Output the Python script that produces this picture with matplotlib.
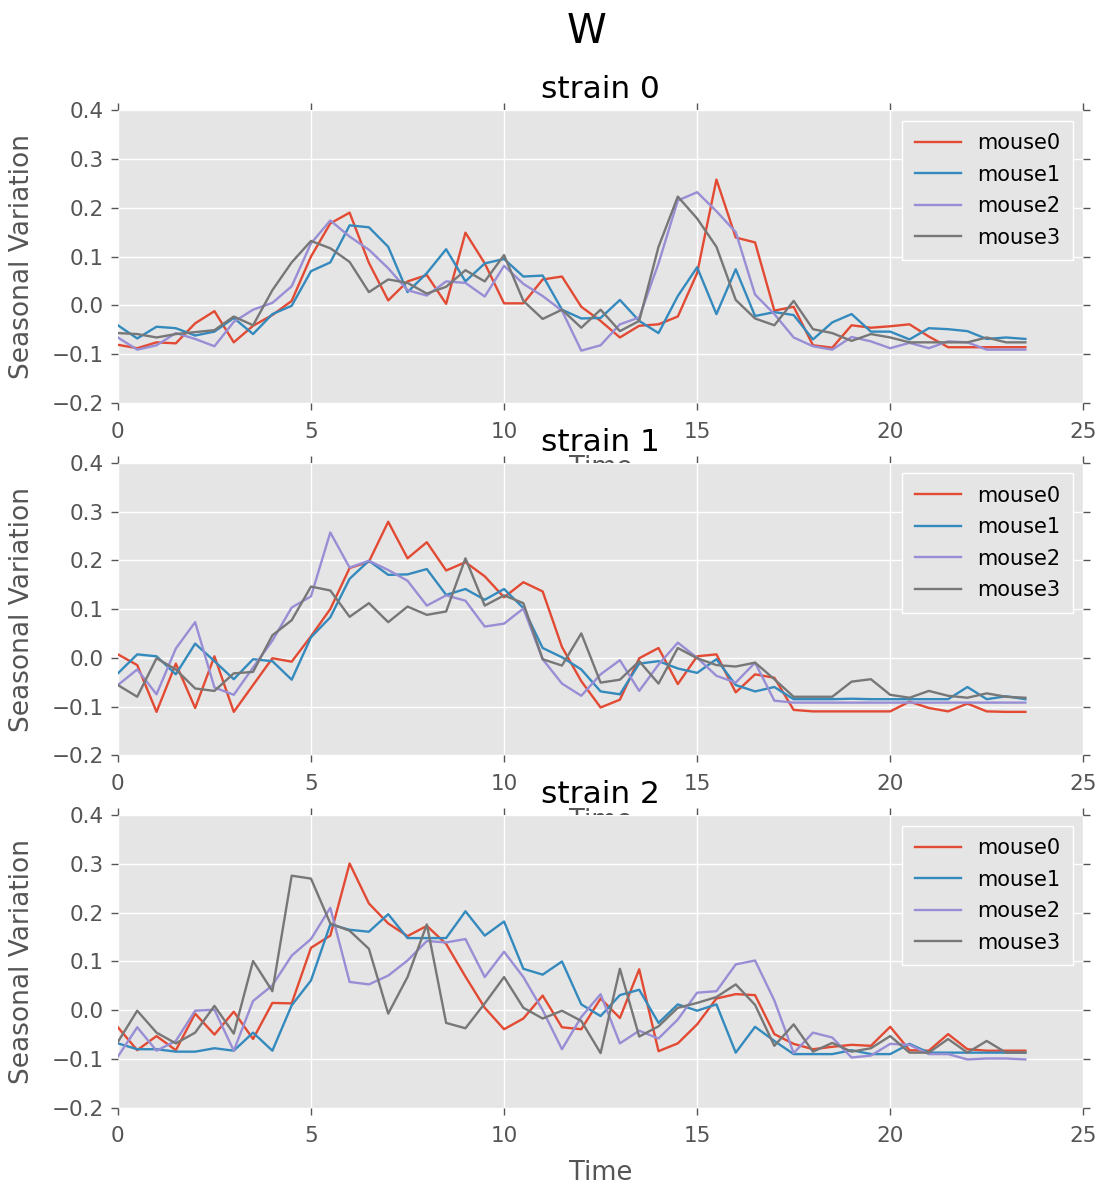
import numpy as np
import matplotlib as mpl
mpl.use('agg')
import matplotlib.pyplot as plt

plt.style.use('ggplot')

## time axis: every half hour over one day
time = np.arange(0, 24, 0.5)
mice = ['mouse0', 'mouse1', 'mouse2', 'mouse3']
strains = ['strain 0', 'strain 1', 'strain 2']

## strain 0
s0_mouse0 = [-0.081, -0.088, -0.076, -0.078, -0.037, -0.012, -0.076, -0.042, -0.020, 0.009,
             0.100, 0.168, 0.190, 0.087, 0.010, 0.049, 0.062, 0.003, 0.149, 0.086,
             0.004, 0.004, 0.053, 0.059, -0.003, -0.032, -0.066, -0.042, -0.039, -0.023,
             0.066, 0.258, 0.139, 0.129, -0.011, -0.003, -0.082, -0.087, -0.041, -0.046,
             -0.043, -0.039, -0.064, -0.086, -0.086, -0.086, -0.086, -0.086]
s0_mouse1 = [-0.041, -0.068, -0.044, -0.047, -0.062, -0.054, -0.026, -0.059, -0.018, -0.001,
             0.070, 0.088, 0.164, 0.160, 0.120, 0.027, 0.066, 0.115, 0.049, 0.086,
             0.095, 0.059, 0.061, -0.009, -0.027, -0.026, 0.011, -0.032, -0.057, 0.019,
             0.078, -0.018, 0.074, -0.022, -0.014, -0.020, -0.070, -0.035, -0.018, -0.054,
             -0.054, -0.070, -0.047, -0.049, -0.053, -0.069, -0.066, -0.069]
s0_mouse2 = [-0.066, -0.091, -0.082, -0.057, -0.069, -0.084, -0.034, -0.009, 0.005, 0.039,
             0.127, 0.174, 0.141, 0.114, 0.076, 0.031, 0.020, 0.049, 0.046, 0.018,
             0.081, 0.044, 0.019, -0.011, -0.093, -0.082, -0.039, -0.025, 0.086, 0.215,
             0.232, 0.193, 0.150, 0.022, -0.018, -0.066, -0.084, -0.091, -0.065, -0.074,
             -0.088, -0.077, -0.088, -0.074, -0.076, -0.091, -0.091, -0.091]
s0_mouse3 = [-0.057, -0.059, -0.066, -0.059, -0.055, -0.051, -0.023, -0.041, 0.031, 0.088,
             0.132, 0.117, 0.089, 0.027, 0.053, 0.046, 0.024, 0.038, 0.072, 0.049,
             0.103, 0.009, -0.028, -0.009, -0.046, -0.009, -0.053, -0.032, 0.120, 0.223,
             0.178, 0.120, 0.011, -0.027, -0.041, 0.009, -0.049, -0.057, -0.073, -0.059,
             -0.066, -0.076, -0.076, -0.076, -0.076, -0.066, -0.076, -0.076]

## strain 1
s1_mouse0 = [0.007, -0.015, -0.111, -0.012, -0.103, 0.003, -0.111, -0.056, -0.001, -0.008,
             0.044, 0.100, 0.184, 0.197, 0.279, 0.204, 0.237, 0.179, 0.196, 0.167,
             0.124, 0.155, 0.136, 0.022, -0.048, -0.102, -0.086, -0.001, 0.020, -0.054,
             0.003, 0.007, -0.071, -0.034, -0.041, -0.107, -0.110, -0.110, -0.110, -0.110,
             -0.110, -0.090, -0.103, -0.110, -0.094, -0.110, -0.111, -0.111]
s1_mouse1 = [-0.032, 0.007, 0.003, -0.034, 0.029, -0.007, -0.044, -0.003, -0.007, -0.045,
             0.042, 0.083, 0.162, 0.199, 0.170, 0.171, 0.182, 0.129, 0.141, 0.119,
             0.141, 0.102, 0.020, 0.001, -0.024, -0.069, -0.075, -0.012, -0.007, -0.022,
             -0.031, -0.003, -0.056, -0.069, -0.060, -0.085, -0.085, -0.085, -0.084, -0.085,
             -0.085, -0.085, -0.085, -0.085, -0.060, -0.085, -0.079, -0.085]
s1_mouse2 = [-0.056, -0.024, -0.075, 0.019, 0.073, -0.061, -0.076, -0.020, 0.035, 0.103,
             0.126, 0.257, 0.185, 0.199, 0.180, 0.158, 0.107, 0.128, 0.117, 0.064,
             0.070, 0.101, -0.003, -0.053, -0.078, -0.034, -0.005, -0.068, -0.014, 0.031,
             0.000, -0.037, -0.051, -0.010, -0.088, -0.092, -0.092, -0.092, -0.092, -0.092,
             -0.092, -0.092, -0.092, -0.092, -0.092, -0.092, -0.092, -0.092]
s1_mouse3 = [-0.056, -0.080, -0.001, -0.024, -0.063, -0.068, -0.032, -0.029, 0.046, 0.077,
             0.146, 0.138, 0.084, 0.112, 0.073, 0.105, 0.088, 0.095, 0.204, 0.107,
             0.128, 0.112, -0.003, -0.016, 0.050, -0.051, -0.045, -0.007, -0.053, 0.020,
             -0.001, -0.015, -0.018, -0.010, -0.044, -0.080, -0.080, -0.080, -0.049, -0.044,
             -0.076, -0.082, -0.068, -0.078, -0.082, -0.073, -0.080, -0.082]

## strain 2
s2_mouse0 = [-0.035, -0.082, -0.053, -0.082, -0.007, -0.050, -0.003, -0.059, 0.015, 0.014,
             0.128, 0.153, 0.301, 0.219, 0.178, 0.152, 0.173, 0.136, 0.069, 0.005,
             -0.039, -0.017, 0.030, -0.035, -0.039, 0.024, -0.016, 0.084, -0.084, -0.068,
             -0.029, 0.024, 0.033, 0.031, -0.049, -0.069, -0.080, -0.075, -0.071, -0.073,
             -0.034, -0.082, -0.083, -0.049, -0.080, -0.083, -0.083, -0.083]
s2_mouse1 = [-0.068, -0.080, -0.080, -0.085, -0.085, -0.078, -0.083, -0.046, -0.083, 0.010,
             0.061, 0.176, 0.165, 0.161, 0.197, 0.148, 0.148, 0.148, 0.203, 0.153,
             0.182, 0.085, 0.073, 0.100, 0.012, -0.012, 0.031, 0.042, -0.026, 0.012,
             -0.001, 0.012, -0.087, -0.034, -0.063, -0.090, -0.090, -0.090, -0.082, -0.090,
             -0.090, -0.069, -0.087, -0.087, -0.087, -0.087, -0.087, -0.087]
s2_mouse2 = [-0.095, -0.035, -0.083, -0.063, -0.001, 0.001, -0.083, 0.019, 0.051, 0.112,
             0.146, 0.210, 0.058, 0.053, 0.071, 0.102, 0.142, 0.139, 0.146, 0.068,
             0.120, 0.068, 0.000, -0.080, -0.014, 0.033, -0.068, -0.042, -0.058, -0.019,
             0.036, 0.039, 0.094, 0.102, 0.020, -0.088, -0.046, -0.056, -0.097, -0.093,
             -0.069, -0.071, -0.090, -0.090, -0.101, -0.099, -0.099, -0.101]
s2_mouse3 = [-0.065, -0.001, -0.046, -0.068, -0.046, 0.009, -0.048, 0.101, 0.039, 0.276,
             0.270, 0.178, 0.163, 0.126, -0.007, 0.068, 0.176, -0.026, -0.037, 0.014,
             0.068, 0.005, -0.017, -0.001, -0.022, -0.088, 0.085, -0.054, -0.033, 0.005,
             0.015, 0.027, 0.053, 0.011, -0.073, -0.029, -0.085, -0.067, -0.085, -0.078,
             -0.053, -0.087, -0.087, -0.059, -0.087, -0.063, -0.087, -0.087]

data = [[s0_mouse0, s0_mouse1, s0_mouse2, s0_mouse3],
        [s1_mouse0, s1_mouse1, s1_mouse2, s1_mouse3],
        [s2_mouse0, s2_mouse1, s2_mouse2, s2_mouse3]]

colors = ['#E24A33', '#348ABD', '#988ED5', '#777777']

fig, axes = plt.subplots(3, 1, figsize=(11.02, 11.86), dpi=100)
fig.subplots_adjust(left=0.107, right=0.983, top=0.907, bottom=0.066, hspace=0.205)
fig.suptitle('W', fontsize=29, x=0.532, y=0.99)

for ax, strain, series in zip(axes, strains, data):
    for name, vals, c in zip(mice, series, colors):
        ax.plot(time, vals, color=c, linewidth=1.7, label=name)
    ax.set_xlim(0, 25)
    ax.set_ylim(-0.2, 0.4)
    ax.set_xticks([0, 5, 10, 15, 20, 25])
    ax.set_yticks([-0.2, -0.1, 0.0, 0.1, 0.2, 0.3, 0.4])
    ax.set_title(strain, fontsize=22.5, color='black', pad=8.5)
    ax.set_xlabel('Time', fontsize=18.5, color='#555555', labelpad=10)
    ax.set_ylabel('Seasonal Variation', fontsize=19, color='#555555', labelpad=12)
    ax.tick_params(labelsize=15.5, colors='#555555', top=True, right=True,
                   direction='out', length=5, width=1)
    ax.tick_params(axis='x', pad=8.5)
    ax.tick_params(axis='y', pad=5)
    ax.grid(True, color='white', linewidth=1)
    for sp in ax.spines.values():
        sp.set_visible(False)
    leg = ax.legend(loc='upper right', fontsize=15, handlelength=2.2,
                    facecolor='#E5E5E5', edgecolor='white', framealpha=1,
                    fancybox=False, borderpad=0.6, labelspacing=0.55)
    leg.get_frame().set_linewidth(1)

fig.savefig('out.png', dpi=100)
